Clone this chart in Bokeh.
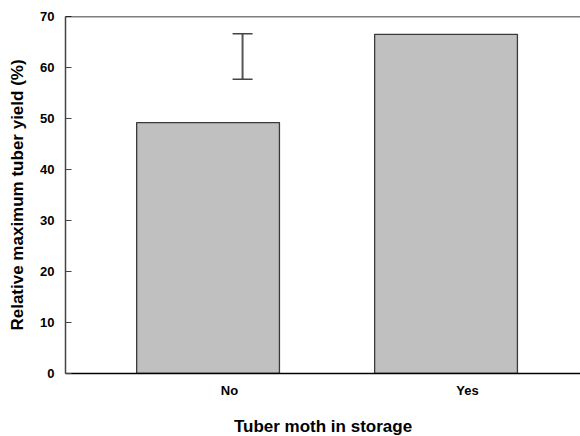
from bokeh.plotting import figure
from bokeh.models import FixedTicker, Span, Whisker, ColumnDataSource, TeeHead
from bokeh.embed import file_html
from bokeh.resources import INLINE

categories = ["No", "Yes"]
yield_pct = [49.2, 66.5]
err_pos = [0.145]
err_low = [57.7]
err_high = [66.6]
y_ticks = [0, 10, 20, 30, 40, 50, 60, 70]

FONT = "Liberation Sans"
LABEL_SHIFT = 0.09

p = figure(frame_width=515, frame_height=357, output_backend="svg", toolbar_location=None,
           x_range=(-0.599, 1.565), y_range=(0, 70),
           min_border_left=65, min_border_right=0, min_border_top=16, min_border_bottom=0)
p.outline_line_color = None
p.grid.visible = False
p.background_fill_color = "white"
p.border_fill_color = "white"

xs = list(range(len(categories)))
src = ColumnDataSource(dict(x=xs, top=yield_pct))
p.vbar(x="x", top="top", width=0.6, bottom=0, source=src,
       fill_color="#c0c0c0", line_color="#3a3a3a", line_width=1.3)

esrc = ColumnDataSource(dict(x=err_pos, lo=err_low, hi=err_high))
w = Whisker(base="x", lower="lo", upper="hi", source=esrc, dimension="height",
            line_color="#555555", line_width=2,
            lower_head=TeeHead(size=20, line_color="#444444", line_width=1.5),
            upper_head=TeeHead(size=20, line_color="#444444", line_width=1.5))
p.add_layout(w)

p.add_layout(Span(location=70, dimension="width", line_color="black", line_width=1.5))

# x axis
tick_pos = [x + LABEL_SHIFT for x in xs]
p.xaxis.ticker = FixedTicker(ticks=tick_pos)
p.xaxis.major_label_overrides = {t: c for t, c in zip(tick_pos, categories)}
p.xaxis.major_tick_line_color = None
p.xaxis.minor_tick_line_color = None
p.xaxis.axis_line_color = "black"
p.xaxis.axis_line_width = 1.5
p.xaxis.major_label_text_font = FONT
p.xaxis.major_label_text_font_style = "bold"
p.xaxis.major_label_text_font_size = "13px"
p.xaxis.major_label_text_color = "black"
p.xaxis.major_label_standoff = 3
p.xaxis.axis_label = "Tuber moth in storage"
p.xaxis.axis_label_text_font = FONT
p.xaxis.axis_label_text_font_style = "bold"
p.xaxis.axis_label_text_font_size = "17px"
p.xaxis.axis_label_text_color = "black"
p.xaxis.axis_label_standoff = 16

# y axis
p.yaxis.ticker = FixedTicker(ticks=y_ticks)
p.yaxis.minor_tick_line_color = None
p.yaxis.major_tick_in = 6
p.yaxis.major_tick_out = 0
p.yaxis.major_tick_line_color = "#444444"
p.yaxis.major_tick_line_width = 1.2
p.yaxis.axis_line_color = "#444444"
p.yaxis.axis_line_width = 1.5
p.yaxis.major_label_text_font = FONT
p.yaxis.major_label_text_font_style = "bold"
p.yaxis.major_label_text_font_size = "13px"
p.yaxis.major_label_text_color = "black"
p.yaxis.major_label_standoff = 11
p.yaxis.axis_label = "Relative maximum tuber yield (%)"
p.yaxis.axis_label_text_font = FONT
p.yaxis.axis_label_text_font_style = "bold"
p.yaxis.axis_label_text_font_size = "17px"
p.yaxis.axis_label_text_color = "black"
p.yaxis.axis_label_standoff = 10

open("out.html", "w").write(file_html(p, INLINE))
